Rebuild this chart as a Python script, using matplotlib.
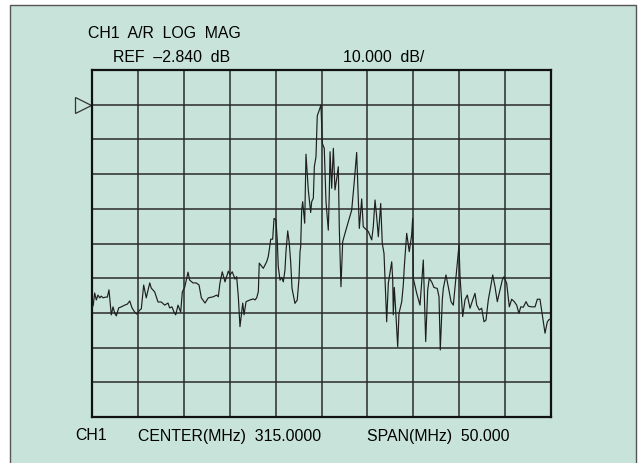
import numpy as np
import matplotlib
matplotlib.use("Agg")
import matplotlib.pyplot as plt
from matplotlib.patches import Rectangle

plt.rcParams['font.family'] = ['Liberation Sans', 'DejaVu Sans']

# trace: frequency (MHz) and level (dB)
freq_mhz = [
    290.00, 290.14, 290.29, 290.47, 290.65, 290.84, 291.01, 291.20, 291.45, 291.67,
    291.85, 292.10, 292.29, 292.47, 292.65, 292.91, 293.19, 293.56, 293.85, 294.11,
    294.36, 294.65, 294.90, 295.20, 295.37, 295.63, 295.91, 296.29, 296.46, 296.83,
    297.19, 297.55, 297.92, 298.28, 298.46, 298.71, 298.93, 299.12, 299.37, 299.66,
    299.84, 300.10, 300.46, 300.64, 301.00, 301.36, 301.66, 301.91, 302.31, 302.67,
    303.21, 303.58, 303.76, 303.94, 304.19, 304.49, 304.85, 305.03, 305.28, 305.58,
    305.76, 305.94, 306.12, 306.42, 306.56, 306.78, 307.21, 307.57, 307.76, 307.94,
    308.12, 308.22, 308.66, 309.03, 309.20, 309.31, 309.47, 309.68, 309.83, 310.04,
    310.18, 310.29, 310.48, 310.66, 310.84, 311.02, 311.13, 311.32, 311.49, 311.64,
    311.79, 312.11, 312.36, 312.55, 312.66, 312.73, 312.84, 312.95, 313.17, 313.31,
    313.56, 313.82, 313.93, 314.11, 314.22, 314.40, 314.54, 314.76, 314.94, 315.09,
    315.30, 315.49, 315.74, 315.85, 315.93, 316.11, 316.29, 316.47, 316.66, 316.83,
    316.94, 317.12, 317.31, 317.56, 317.92, 318.29, 318.57, 318.83, 319.12, 319.38,
    319.55, 319.74, 320.10, 320.47, 320.64, 320.83, 321.01, 321.19, 321.45, 321.62,
    321.81, 321.92, 322.10, 322.28, 322.65, 322.76, 322.82, 322.93, 323.08, 323.30,
    323.44, 323.74, 323.91, 324.02, 324.28, 324.56, 324.82, 324.93, 325.00, 325.37,
    325.73, 326.09, 326.35, 326.57, 326.74, 327.00, 327.25, 327.61, 327.80, 327.94,
    328.16, 328.27, 328.56, 328.81, 329.11, 329.36, 329.65, 329.98, 330.09, 330.38,
    330.63, 330.88, 331.18, 331.47, 331.72, 331.91, 332.19, 332.45, 332.70, 332.92,
    333.17, 333.43, 333.65, 333.90, 334.15, 334.44, 334.69, 334.88, 335.17, 335.46,
    335.72, 336.00, 336.26, 336.51, 336.70, 336.98, 337.28, 337.53, 337.90, 338.26,
    338.51, 338.80, 339.05, 339.35, 339.60, 339.81, 340.00,
]
level_db = [
    -61.4, -60.6, -57.1, -59.1, -57.7, -58.5, -58.0, -58.5, -58.3, -58.3,
    -56.2, -63.4, -61.1, -62.9, -63.7, -61.4, -61.1, -60.6, -60.3, -59.4,
    -61.4, -62.6, -63.2, -62.0, -61.7, -54.8, -58.5, -54.2, -55.7, -56.8,
    -59.7, -59.7, -60.6, -60.0, -61.4, -61.1, -62.6, -63.4, -60.6, -62.6,
    -56.8, -55.4, -51.1, -53.4, -54.2, -54.2, -54.8, -58.5, -60.0, -58.5,
    -58.2, -57.7, -58.2, -54.2, -51.0, -53.9, -50.8, -51.9, -51.0, -53.1,
    -52.4, -58.2, -66.8, -60.0, -63.4, -59.6, -59.1, -58.8, -59.1, -58.5,
    -56.7, -48.5, -50.0, -48.1, -46.6, -44.7, -41.6, -41.6, -35.6, -36.1,
    -41.8, -49.5, -53.4, -52.6, -53.9, -50.5, -45.2, -39.2, -42.8, -48.1,
    -55.8, -60.1, -59.1, -52.9, -45.2, -43.8, -33.2, -30.8, -37.0, -17.1,
    -27.4, -33.9, -30.8, -29.8, -20.7, -17.8, -6.0, -4.4, -2.9, -14.0,
    -15.4, -30.8, -39.0, -28.4, -16.4, -26.9, -15.4, -27.4, -24.1, -20.7,
    -38.5, -55.3, -42.3, -39.9, -36.6, -33.2, -25.0, -16.6, -38.5, -30.0,
    -38.0, -38.5, -39.4, -41.8, -38.0, -30.3, -35.1, -40.9, -31.3, -42.8,
    -45.7, -53.4, -65.4, -54.3, -48.1, -53.4, -63.4, -55.5, -62.0, -72.6,
    -63.0, -59.6, -54.8, -49.5, -39.9, -45.2, -40.4, -35.6, -52.9, -57.2,
    -60.6, -47.6, -71.1, -56.2, -52.9, -53.9, -55.5, -55.8, -58.2, -73.5,
    -59.1, -55.8, -51.9, -55.3, -59.6, -60.6, -52.4, -43.3, -52.4, -63.9,
    -59.1, -57.7, -61.5, -59.1, -57.2, -60.6, -62.0, -61.5, -65.4, -64.9,
    -59.1, -55.3, -51.9, -55.3, -59.6, -56.2, -53.4, -52.4, -54.3, -61.1,
    -58.9, -59.6, -60.6, -63.0, -61.1, -61.2, -59.6, -60.9, -61.1, -61.1,
    -58.9, -58.9, -63.4, -68.7, -65.4, -64.7, -64.7,
]

center_mhz = 315.0
span_mhz = 50.0
ref_db = -2.840
db_per_div = 10.0
ref_div = 9          # reference line position, divisions from bottom
n_div = 10

bg = '#c8e4da'
ink = '#1e1e1e'

fig = plt.figure(figsize=(6.38, 4.63), dpi=100)
fig.patch.set_facecolor('white')

# screen panel
fig.patches.append(Rectangle((10 / 638, -0.05), 626 / 638, 1.05 - 5 / 463,
                             transform=fig.transFigure, facecolor=bg,
                             edgecolor='#555555', linewidth=1.0, zorder=-1))

ax = fig.add_axes([92 / 638, 46 / 463, 459 / 638, 347 / 463])
ax.set_facecolor('none')
ax.set_zorder(1)

x0 = center_mhz - span_mhz / 2
x1 = center_mhz + span_mhz / 2
y0 = ref_db - ref_div * db_per_div
y1 = y0 + n_div * db_per_div
ax.set_xlim(x0, x1)
ax.set_ylim(y0, y1)
ax.set_xticks(np.linspace(x0, x1, 11))
ax.set_yticks(np.linspace(y0, y1, n_div + 1))
ax.tick_params(length=0, labelbottom=False, labelleft=False)
ax.grid(True, color='#2a2a2a', linewidth=1.1)
for s in ax.spines.values():
    s.set_linewidth(1.6)
    s.set_color('#111111')

ax.plot(freq_mhz, level_db, color=ink, linewidth=0.85, zorder=3)

# reference marker
ax.plot([x0 - 0.95], [ref_db], marker='>', markersize=12, mfc='none',
        mec='#333333', mew=0.9, clip_on=False)

fs = 11.4
fig.text(88 / 638, 1 - 33 / 463, 'CH1  A/R  LOG  MAG', fontsize=fs, va='center')
fig.text(113 / 638, 1 - 57.5 / 463, 'REF  \u20132.840  dB', fontsize=fs, va='center')
fig.text(343 / 638, 1 - 57.5 / 463, '10.000  dB/', fontsize=fs, va='center')
fig.text(75 / 638, 1 - 436 / 463, 'CH1', fontsize=fs, va='center')
fig.text(138 / 638, 1 - 436 / 463, 'CENTER(MHz)  315.0000', fontsize=fs, va='center')
fig.text(367 / 638, 1 - 436 / 463, 'SPAN(MHz)  50.000', fontsize=fs, va='center')

fig.savefig('out.png', dpi=100, facecolor='white')
